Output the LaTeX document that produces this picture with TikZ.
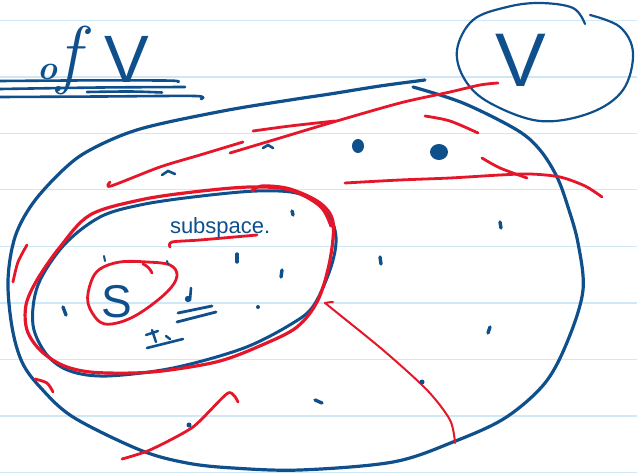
\documentclass[tikz,border=0pt]{standalone}
\usepackage{fontspec}
\newfontfamily\hand{Liberation Sans}
\definecolor{ink}{RGB}{14,79,140}
\definecolor{pen}{RGB}{230,22,42}
\definecolor{rulec}{RGB}{206,232,248}
\tikzset{
  blueline/.style={draw=ink, line width=3pt, line cap=round, line join=round},
  thinblue/.style={draw=ink, line width=2.2pt, line cap=round, line join=round},
  redline/.style={draw=pen, line width=2.8pt, line cap=round, line join=round},
  thinred/.style={draw=pen, line width=2pt, line cap=round, line join=round},
  dotmark/.style={draw=ink, line width=3.4pt, line cap=round},
  ruleline/.style={draw=rulec, line width=1.4pt},
  txt/.style={text=ink, inner sep=0pt, outer sep=0pt}
}
\begin{document}
\begin{tikzpicture}[x=1pt,y=-1pt]
\useasboundingbox[fill=white] (0,0) rectangle (637,476);
% ruled lines
\foreach \yy in {20.7,77.2,133.3,189.7,246.3,302.8,359.3,415.9,472.5}
  \draw[ruleline] (0,\yy) -- (637,\yy);

% heading "of V" with underlines
\node[txt, anchor=base west, font=\itshape\bfseries] (of) at (37,80)
  {{\fontsize{34}{34}\selectfont o}{\fontsize{76}{76}\selectfont\mdseries f}};
\node[txt, anchor=base, font=\hand\fontsize{67}{67}\selectfont] (vleft) at (127,83) {V};
\draw[blueline, line width=2.6pt] plot[smooth] coordinates {(0,81) (90,80.4) (170,80.6) (178,82)};
\draw[blueline, line width=2.6pt] plot[smooth] coordinates {(0,89) (100,87.5) (185,87)};
\draw[blueline, line width=2.6pt] plot[smooth] coordinates {(87,92) (130,91.5) (162,92.5)};
\draw[blueline, line width=2.6pt] plot[smooth] coordinates {(0,97) (100,96.5) (195,96) (201,99)};

% circled V
\node[txt, anchor=base, font=\hand\fontsize{76}{76}\selectfont] (vright) at (521,87) {V};
\draw[thinblue] plot[smooth, tension=0.6] coordinates {(590,15) (620,27) (633,53) (623,90) (590,113) (540,121) (490,103) (465,80) (457,50) (473,20) (507,7) (540,3) (573,8) (585,24)};

% outer blue loop
\draw[blueline, line width=3.2pt] plot[smooth, tension=0.55] coordinates {(425,80) (380,86) (330,94) (290,100) (223,111) (140,129) (90,150) (63,170) (33,203) (15,237) (8,280) (12,327) (22,362) (40,387) (73,417) (140,450) (187,463) (233,468) (300,470) (393,462) (453,442) (505,418) (545,383) (568,340) (583,290) (578,243) (568,207) (557,177) (540,150) (517,130) (463,103) (413,87)};

% inner blue loop
\draw[blueline] plot[smooth cycle, tension=0.55] coordinates {(193,197) (257,191) (300,194) (327,213) (336,237) (331,267) (314,305) (293,323) (244,348) (173,368) (107,376) (70,371) (47,355) (33,325) (38,285) (64,245) (100,217) (140,205)};

% inner red loop
\draw[redline, line width=3.2pt] plot[smooth, tension=0.55] coordinates {(252,191) (262,186) (290,189) (320,203) (333,222) (330,260) (318,300) (297,327) (262,345) (220,361) (170,370) (133,373) (90,372) (62,365) (40,350) (27,330) (26,305) (37,280) (60,247) (90,215) (140,200) (193,192) (250,187) (290,190) (320,206) (331,226)};

% text subspace.
\node[txt, anchor=base west, font=\hand\fontsize{22}{22}\selectfont] (sub) at (170,233) {subspace.};
\draw[redline] plot[smooth] coordinates {(170,247) (172,242) (200,240) (257,235)};

% S and its circle
\node[txt, anchor=base, font=\hand\fontsize{46}{46}\selectfont] (S) at (117,317) {S};
\draw[redline] plot[smooth cycle, tension=0.6] coordinates {(100,269) (120,262) (147,262) (170,265) (177,276) (167,292) (140,313) (117,323) (100,322) (88,303) (91,282)};
\draw[redline] (143,264) to[bend left=20] (152,273);

% small marks near S
\fill[ink] (188,299) circle (3.2);
\draw[dotmark, line width=2.6pt] (191,288) -- (190,300);
\draw[dotmark, line width=2.8pt] (178,313) -- (212,306);
\draw[dotmark, line width=2.8pt] (177,322) -- (216,312);
\draw[dotmark, line width=2.4pt] (146,335) -- (158,331);
\draw[dotmark, line width=2.4pt] (152,330) -- (156,342);
\draw[dotmark, line width=2.4pt] (166,336) -- (170,339);
\draw[dotmark, line width=2.6pt] (147,348) -- (183,339);

% red strokes
\draw[redline] plot[smooth] coordinates {(110,182) (111,186) (160,167) (200,155) (243,142)};
\draw[redline] plot[smooth] coordinates {(230,153) (280,138) (330,123) (400,103) (450,92) (480,85) (498,83)};
\draw[redline] plot[smooth] coordinates {(253,131) (290,126) (335,121)};
\draw[redline] plot[smooth] coordinates {(425,116) (450,121) (478,133)};
\draw[redline] plot[smooth] coordinates {(345,183) (400,180) (450,178) (500,175) (530,174) (560,177) (585,186) (602,197)};
\draw[redline] plot[smooth] coordinates {(482,158) (500,168) (527,178)};
\draw[redline] plot[smooth] coordinates {(27,245) (18,262) (13,282)};
\draw[redline] plot[smooth] coordinates {(35,379) (47,383) (53,392)};
\draw[redline] plot[smooth, tension=0.4] coordinates {(122,459) (150,450) (193,427) (228,393) (238,402)};
\draw[thinred] plot[smooth, tension=0.5] coordinates {(333,302) (326,303) (330,307) (383,350) (427,390) (450,420) (455,443)};

% blue dots and marks
\draw[dotmark, line width=2.6pt] (162,175) -- (168,171) -- (175,174);
\draw[dotmark, line width=2.6pt] (263,148) -- (268,145) -- (273,148);
\fill[ink] (358,146) ellipse (6 and 7);
\fill[ink] (439,152) ellipse (9 and 8);
\draw[dotmark] (292,211) -- (293,215);
\draw[dotmark] (500,222) -- (501,228);
\draw[dotmark] (237,254) -- (237,262);
\draw[dotmark] (380,257) -- (381,264);
\draw[dotmark] (282,270) -- (281,277);
\draw[dotmark, line width=2pt] (104,256) -- (105,261);
\draw[dotmark, line width=2pt] (167,261) -- (168,264);
\draw[dotmark] (63,307) -- (66,315);
\fill[ink] (258,307) circle (2);
\draw[dotmark] (490,327) -- (488,333);
\fill[ink] (422,382) circle (2.5);
\draw[dotmark] (315,400) -- (322,403);
\fill[ink] (189,425) circle (2.5);
\end{tikzpicture}
\end{document}
